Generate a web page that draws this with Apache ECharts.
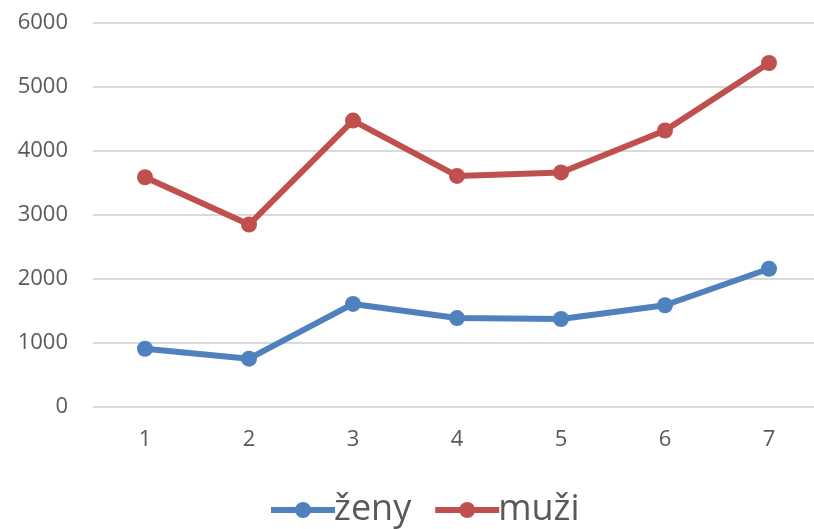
<!DOCTYPE html>
<html>
<head>
<meta charset="utf-8">
<script src="https://cdn.jsdelivr.net/npm/echarts@6/dist/echarts.min.js"></script>
<style>
html, body { margin: 0; padding: 0; background: #fff; overflow: hidden; }
/* wider than the window: the plot area runs past the right edge */
#chart { width: 830px; height: 529px; }
</style>
</head>
<body>
<div id="chart"></div>
<script>
const categories = ["1", "2", "3", "4", "5", "6", "7"]
const zeny = [910, 755, 1610, 1390, 1375, 1590, 2160]
const muzi = [3590, 2850, 4475, 3610, 3665, 4320, 5375]

const blue = "#4F81BD"
const red = "#C0504D"

// thick line with a dot in the middle, like the original legend keys
const legendIcon =
	"path://M0,-3 H64 V3 H0 Z M32,-8 A8,8 0 1,1 32,8 A8,8 0 1,1 32,-8 Z"

const chart = echarts.init(document.getElementById("chart"))

function lineSeries(name, data, color) {
	return {
		name: name,
		type: "line",
		data: data,
		symbol: "circle",
		symbolSize: 16,
		showSymbol: true,
		lineStyle: { width: 6, color: color },
		itemStyle: { color: color },
		animation: false,
	}
}

chart.setOption({
	backgroundColor: "#fff",
	textStyle: { fontFamily: "Open Sans, Noto Sans, sans-serif" },
	grid: { left: 93, right: 9, top: 23, bottom: 122 },
	legend: {
		left: 266,
		top: 487,
		itemWidth: 64,
		itemHeight: 16,
		itemGap: 24,
		icon: legendIcon,
		textStyle: { fontSize: 36, color: "#595959", padding: [0, 0, 0, -6] },
		data: ["ženy", "muži"],
	},
	xAxis: {
		type: "category",
		data: categories,
		boundaryGap: true,
		axisLine: { show: false },
		axisTick: { show: false },
		axisLabel: { fontSize: 22, color: "#595959", margin: 22 },
	},
	yAxis: {
		type: "value",
		min: 0,
		max: 6000,
		interval: 1000,
		axisLine: { show: false },
		axisTick: { show: false },
		axisLabel: {
			fontSize: 22,
			color: "#595959",
			margin: 25,
			formatter: (value) => String(value),
		},
		splitLine: { lineStyle: { color: "#D9D9D9", width: 2 } },
	},
	series: [lineSeries("ženy", zeny, blue), lineSeries("muži", muzi, red)],
})
</script>
</body>
</html>
